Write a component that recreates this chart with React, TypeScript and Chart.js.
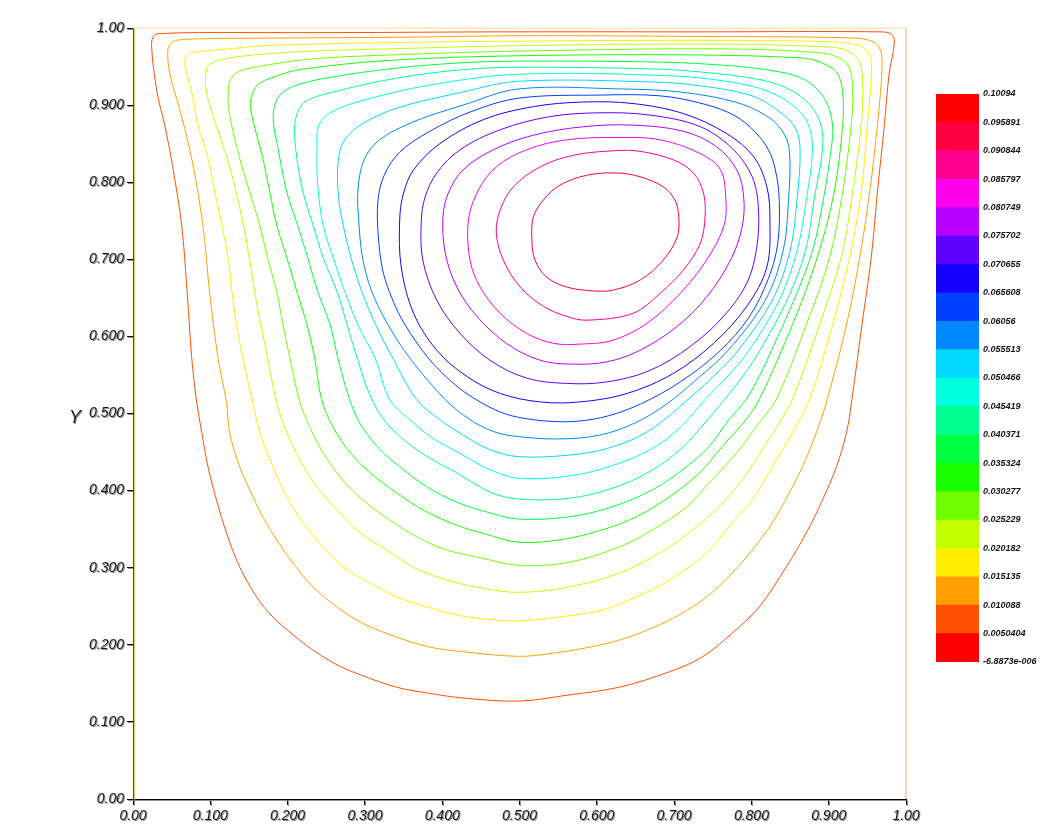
import React, { useEffect, useRef } from 'react';
import { Chart, registerables } from 'chart.js';

Chart.register(...registerables);

// ---- axes ----
const xTickValues = [0, 0.1, 0.2, 0.3, 0.4, 0.5, 0.6, 0.7, 0.8, 0.9, 1.0];
const xTickLabels = ['0.00', '0.100', '0.200', '0.300', '0.400', '0.500', '0.600', '0.700', '0.800', '0.900', '1.00'];
const yTickValues = [0, 0.1, 0.2, 0.3, 0.4, 0.5, 0.6, 0.7, 0.8, 0.9, 1.0];
const yTickLabels = ['0.00', '0.100', '0.200', '0.300', '0.400', '0.500', '0.600', '0.700', '0.800', '0.900', '1.00'];
const yAxisTitle = 'Y';

// ---- contour levels (stream function) ----
const levels = [-6.8873e-6, 0.0050404, 0.010088, 0.015135, 0.020182, 0.025229, 0.030277, 0.035324, 0.040371,
  0.045419, 0.050466, 0.055513, 0.06056, 0.065608, 0.070655, 0.075702, 0.080749, 0.085797, 0.090844, 0.095891, 0.10094];
const levelLabels = ['-6.8873e-006', '0.0050404', '0.010088', '0.015135', '0.020182', '0.025229', '0.030277', '0.035324',
  '0.040371', '0.045419', '0.050466', '0.055513', '0.06056', '0.065608', '0.070655', '0.075702', '0.080749', '0.085797',
  '0.090844', '0.095891', '0.10094'];
const bandColors = ['#ff0000', '#ff5000', '#ffa000', '#ffee00', '#c0ff00', '#70ff00', '#18ff00', '#00ff40', '#00ff90',
  '#00ffdd', '#00d8ff', '#0088ff', '#0040ff', '#1800ff', '#6000ff', '#b800ff', '#ff00ee', '#ff0090', '#ff0040', '#ff0000'];

// ---- contour lines [x, y] (closed loops) ----
const contour01 = [[0.499,0.127],[0.564,0.135],[0.629,0.145],[0.694,0.165],[0.736,0.184],[0.775,0.215],[0.810,0.249],[0.845,0.301],[0.871,0.345],[0.892,0.388],[0.910,0.431],[0.923,0.475],[0.930,0.518],[0.943,0.615],[0.955,0.702],[0.963,0.787],[0.972,0.874],[0.978,0.939],[0.985,0.982],[0.981,0.992],[0.967,0.995],[0.734,0.995],[0.475,0.995],[0.259,0.994],[0.086,0.994],[0.041,0.993],[0.028,0.991],[0.024,0.978],[0.031,0.917],[0.041,0.874],[0.051,0.822],[0.063,0.744],[0.070,0.658],[0.076,0.572],[0.082,0.518],[0.089,0.475],[0.097,0.431],[0.108,0.388],[0.121,0.345],[0.138,0.301],[0.160,0.262],[0.181,0.236],[0.207,0.213],[0.233,0.193],[0.264,0.174],[0.297,0.160],[0.341,0.145],[0.384,0.137],[0.427,0.131],[0.499,0.127]];
const contour02 = [[0.499,0.185],[0.542,0.189],[0.586,0.196],[0.629,0.206],[0.672,0.222],[0.707,0.239],[0.742,0.262],[0.775,0.293],[0.801,0.323],[0.827,0.358],[0.849,0.397],[0.866,0.431],[0.884,0.475],[0.898,0.518],[0.923,0.615],[0.940,0.702],[0.953,0.787],[0.963,0.874],[0.967,0.917],[0.969,0.952],[0.967,0.971],[0.958,0.982],[0.931,0.987],[0.734,0.989],[0.501,0.990],[0.345,0.988],[0.186,0.987],[0.086,0.986],[0.055,0.984],[0.050,0.981],[0.045,0.971],[0.048,0.939],[0.060,0.896],[0.073,0.844],[0.084,0.787],[0.093,0.722],[0.099,0.658],[0.110,0.572],[0.121,0.514],[0.125,0.475],[0.138,0.431],[0.151,0.401],[0.168,0.366],[0.186,0.336],[0.207,0.306],[0.233,0.275],[0.264,0.249],[0.297,0.228],[0.341,0.210],[0.384,0.197],[0.427,0.191],[0.499,0.185]];
const contour03 = [[0.499,0.231],[0.542,0.235],[0.607,0.245],[0.651,0.262],[0.694,0.284],[0.742,0.319],[0.775,0.358],[0.801,0.388],[0.827,0.431],[0.853,0.475],[0.875,0.518],[0.905,0.615],[0.927,0.702],[0.942,0.787],[0.950,0.874],[0.955,0.939],[0.953,0.965],[0.940,0.977],[0.905,0.982],[0.734,0.984],[0.501,0.983],[0.332,0.981],[0.233,0.979],[0.168,0.977],[0.125,0.973],[0.082,0.969],[0.071,0.966],[0.067,0.958],[0.070,0.939],[0.076,0.917],[0.084,0.874],[0.097,0.831],[0.106,0.787],[0.115,0.744],[0.123,0.702],[0.128,0.658],[0.134,0.615],[0.142,0.572],[0.155,0.514],[0.164,0.475],[0.181,0.431],[0.199,0.392],[0.220,0.358],[0.246,0.327],[0.272,0.301],[0.307,0.280],[0.341,0.262],[0.384,0.248],[0.427,0.237],[0.471,0.232],[0.499,0.231]];
const contour04 = [[0.499,0.268],[0.564,0.275],[0.629,0.293],[0.681,0.319],[0.724,0.349],[0.758,0.379],[0.788,0.414],[0.814,0.453],[0.836,0.488],[0.853,0.518],[0.888,0.615],[0.916,0.702],[0.931,0.787],[0.942,0.874],[0.944,0.926],[0.940,0.956],[0.927,0.969],[0.905,0.975],[0.758,0.979],[0.499,0.977],[0.332,0.973],[0.233,0.970],[0.168,0.966],[0.125,0.961],[0.099,0.953],[0.094,0.939],[0.095,0.917],[0.102,0.891],[0.115,0.852],[0.128,0.809],[0.138,0.767],[0.147,0.722],[0.154,0.680],[0.161,0.637],[0.170,0.593],[0.186,0.514],[0.199,0.475],[0.216,0.440],[0.238,0.405],[0.264,0.375],[0.294,0.345],[0.328,0.323],[0.362,0.301],[0.406,0.284],[0.449,0.274],[0.499,0.268]];
const contour05 = [[0.499,0.303],[0.564,0.307],[0.629,0.327],[0.672,0.349],[0.716,0.379],[0.749,0.414],[0.781,0.449],[0.810,0.488],[0.832,0.518],[0.871,0.615],[0.901,0.702],[0.918,0.787],[0.929,0.874],[0.931,0.917],[0.927,0.948],[0.914,0.961],[0.888,0.968],[0.758,0.973],[0.499,0.970],[0.332,0.965],[0.233,0.960],[0.168,0.951],[0.138,0.944],[0.126,0.933],[0.123,0.913],[0.125,0.887],[0.138,0.831],[0.151,0.787],[0.164,0.744],[0.174,0.702],[0.186,0.658],[0.194,0.615],[0.203,0.572],[0.216,0.514],[0.229,0.482],[0.246,0.449],[0.268,0.418],[0.297,0.388],[0.332,0.362],[0.367,0.340],[0.406,0.323],[0.449,0.313],[0.499,0.303]];
const contour06 = [[0.499,0.333],[0.551,0.336],[0.607,0.349],[0.651,0.366],[0.694,0.392],[0.733,0.423],[0.762,0.457],[0.793,0.492],[0.810,0.518],[0.853,0.615],[0.885,0.702],[0.907,0.787],[0.918,0.874],[0.918,0.917],[0.910,0.943],[0.888,0.956],[0.866,0.961],[0.734,0.965],[0.499,0.964],[0.332,0.958],[0.216,0.946],[0.181,0.936],[0.161,0.926],[0.153,0.910],[0.152,0.896],[0.160,0.861],[0.168,0.831],[0.177,0.787],[0.186,0.744],[0.199,0.702],[0.212,0.658],[0.225,0.615],[0.235,0.572],[0.244,0.518],[0.259,0.482],[0.281,0.449],[0.307,0.423],[0.341,0.397],[0.375,0.375],[0.419,0.355],[0.462,0.342],[0.499,0.333]];
const contour07 = [[0.499,0.363],[0.564,0.366],[0.620,0.379],[0.672,0.401],[0.716,0.431],[0.745,0.457],[0.771,0.492],[0.793,0.518],[0.811,0.550],[0.826,0.582],[0.855,0.647],[0.879,0.711],[0.893,0.777],[0.903,0.842],[0.905,0.874],[0.896,0.906],[0.874,0.930],[0.837,0.943],[0.760,0.952],[0.669,0.956],[0.499,0.957],[0.427,0.955],[0.341,0.948],[0.255,0.936],[0.209,0.925],[0.190,0.913],[0.182,0.894],[0.182,0.874],[0.186,0.852],[0.199,0.787],[0.213,0.744],[0.226,0.702],[0.239,0.658],[0.255,0.615],[0.265,0.572],[0.278,0.525],[0.292,0.490],[0.316,0.457],[0.345,0.431],[0.380,0.405],[0.419,0.385],[0.462,0.371],[0.499,0.363]];
const contour08 = [[0.499,0.389],[0.564,0.390],[0.620,0.403],[0.669,0.425],[0.710,0.455],[0.740,0.488],[0.765,0.518],[0.790,0.550],[0.811,0.582],[0.846,0.647],[0.870,0.711],[0.881,0.777],[0.892,0.842],[0.890,0.874],[0.876,0.900],[0.850,0.920],[0.811,0.933],[0.734,0.943],[0.669,0.947],[0.499,0.949],[0.427,0.946],[0.341,0.935],[0.255,0.916],[0.222,0.904],[0.212,0.888],[0.209,0.868],[0.212,0.831],[0.220,0.787],[0.233,0.744],[0.246,0.702],[0.264,0.658],[0.277,0.615],[0.290,0.572],[0.306,0.525],[0.326,0.490],[0.354,0.463],[0.384,0.442],[0.419,0.423],[0.462,0.398],[0.499,0.389]];
const contour09 = [[0.499,0.416],[0.564,0.419],[0.616,0.431],[0.669,0.453],[0.708,0.482],[0.740,0.518],[0.770,0.549],[0.797,0.582],[0.836,0.647],[0.859,0.711],[0.871,0.777],[0.879,0.842],[0.874,0.874],[0.858,0.896],[0.824,0.917],[0.773,0.930],[0.694,0.938],[0.499,0.940],[0.384,0.926],[0.297,0.906],[0.255,0.890],[0.240,0.873],[0.238,0.842],[0.239,0.796],[0.246,0.744],[0.259,0.702],[0.274,0.658],[0.291,0.615],[0.313,0.572],[0.332,0.518],[0.358,0.492],[0.388,0.468],[0.427,0.446],[0.462,0.427],[0.499,0.416]];
const contour10 = [[0.499,0.444],[0.564,0.446],[0.611,0.454],[0.656,0.471],[0.690,0.494],[0.720,0.520],[0.752,0.549],[0.783,0.582],[0.827,0.647],[0.850,0.711],[0.859,0.777],[0.863,0.842],[0.857,0.870],[0.837,0.891],[0.801,0.912],[0.734,0.925],[0.672,0.930],[0.499,0.931],[0.427,0.917],[0.341,0.896],[0.294,0.874],[0.272,0.852],[0.265,0.822],[0.266,0.780],[0.272,0.744],[0.282,0.702],[0.296,0.658],[0.314,0.615],[0.336,0.572],[0.367,0.518],[0.397,0.492],[0.427,0.472],[0.462,0.453],[0.499,0.444]];
const contour11 = [[0.499,0.470],[0.552,0.467],[0.604,0.472],[0.650,0.488],[0.690,0.512],[0.730,0.545],[0.770,0.582],[0.818,0.647],[0.841,0.711],[0.848,0.777],[0.849,0.842],[0.839,0.868],[0.818,0.887],[0.779,0.904],[0.708,0.917],[0.630,0.921],[0.499,0.921],[0.427,0.900],[0.362,0.878],[0.319,0.855],[0.299,0.829],[0.291,0.790],[0.292,0.751],[0.297,0.702],[0.309,0.658],[0.330,0.615],[0.358,0.572],[0.404,0.518],[0.436,0.492],[0.468,0.476],[0.499,0.470]];
const contour12 = [[0.499,0.495],[0.538,0.490],[0.575,0.490],[0.615,0.497],[0.658,0.513],[0.708,0.541],[0.758,0.580],[0.797,0.625],[0.822,0.675],[0.834,0.720],[0.836,0.777],[0.831,0.816],[0.822,0.842],[0.805,0.865],[0.779,0.886],[0.740,0.901],[0.682,0.912],[0.604,0.913],[0.499,0.909],[0.436,0.891],[0.384,0.866],[0.345,0.839],[0.325,0.809],[0.317,0.777],[0.317,0.735],[0.323,0.686],[0.336,0.647],[0.352,0.615],[0.382,0.572],[0.417,0.537],[0.449,0.515],[0.475,0.502],[0.499,0.495]];
const contour13 = [[0.527,0.515],[0.578,0.515],[0.639,0.526],[0.699,0.552],[0.751,0.591],[0.794,0.639],[0.820,0.690],[0.824,0.751],[0.820,0.794],[0.803,0.833],[0.768,0.863],[0.712,0.889],[0.647,0.902],[0.583,0.904],[0.518,0.898],[0.453,0.881],[0.397,0.850],[0.363,0.816],[0.350,0.786],[0.345,0.751],[0.347,0.690],[0.363,0.630],[0.393,0.582],[0.432,0.548],[0.475,0.526],[0.527,0.515]];
const contour14 = [[0.561,0.539],[0.613,0.541],[0.669,0.556],[0.721,0.587],[0.764,0.626],[0.794,0.669],[0.807,0.716],[0.809,0.768],[0.801,0.807],[0.777,0.842],[0.734,0.872],[0.669,0.887],[0.604,0.890],[0.539,0.885],[0.475,0.868],[0.423,0.842],[0.393,0.812],[0.378,0.781],[0.373,0.751],[0.375,0.699],[0.393,0.647],[0.423,0.604],[0.462,0.569],[0.509,0.546],[0.561,0.539]];
const contour15 = [[0.570,0.564],[0.613,0.567],[0.656,0.582],[0.704,0.613],[0.742,0.651],[0.773,0.699],[0.788,0.742],[0.790,0.781],[0.781,0.816],[0.755,0.846],[0.712,0.866],[0.647,0.874],[0.583,0.872],[0.518,0.861],[0.466,0.842],[0.427,0.816],[0.408,0.786],[0.401,0.755],[0.404,0.708],[0.419,0.664],[0.445,0.626],[0.483,0.591],[0.527,0.569],[0.570,0.564]];
const contour16 = [[0.578,0.590],[0.621,0.595],[0.665,0.617],[0.708,0.656],[0.742,0.699],[0.764,0.742],[0.767,0.777],[0.760,0.816],[0.734,0.837],[0.682,0.855],[0.626,0.858],[0.561,0.855],[0.509,0.842],[0.470,0.820],[0.447,0.790],[0.434,0.751],[0.436,0.699],[0.449,0.664],[0.475,0.630],[0.509,0.604],[0.544,0.591],[0.578,0.590]];
const contour17 = [[0.587,0.621],[0.647,0.630],[0.682,0.656],[0.712,0.686],[0.734,0.721],[0.740,0.755],[0.738,0.786],[0.725,0.812],[0.699,0.829],[0.656,0.840],[0.626,0.841],[0.570,0.835],[0.527,0.820],[0.492,0.794],[0.475,0.764],[0.470,0.734],[0.479,0.699],[0.501,0.664],[0.531,0.639],[0.561,0.626],[0.587,0.621]];
const contour18 = [[0.626,0.812],[0.656,0.807],[0.686,0.794],[0.701,0.777],[0.706,0.755],[0.704,0.729],[0.686,0.699],[0.656,0.673],[0.621,0.660],[0.596,0.659],[0.561,0.664],[0.535,0.677],[0.520,0.699],[0.516,0.725],[0.518,0.755],[0.531,0.777],[0.552,0.796],[0.587,0.809],[0.626,0.812]];

// zero stream-function lines along the walls
const wallLeft = [[0.0015, 0], [0.0015, 1]];
const wallTop = [[0, 1], [1, 1]];
const wallRight = [[1, 0], [1, 1]];
const wallColors = ['#f6ee58', '#ffd890', '#ffa878'];

const contours = [contour01, contour02, contour03, contour04, contour05, contour06, contour07, contour08, contour09,
  contour10, contour11, contour12, contour13, contour14, contour15, contour16, contour17, contour18];

const tickFont = { family: '"Liberation Sans", Arial, sans-serif', style: 'italic' as const, size: 14 };

// soft offset shadow on axis texts, like the reference
const shadowPlugin = {
  id: 'axisShadow',
  beforeDraw(chart: any) {
    const ctx = chart.ctx;
    ctx.shadowColor = 'rgba(120,120,120,0.8)';
    ctx.shadowOffsetX = 1;
    ctx.shadowOffsetY = 1;
    ctx.shadowBlur = 0;
  },
  beforeDatasetsDraw(chart: any) {
    const ctx = chart.ctx;
    ctx.shadowColor = 'rgba(0,0,0,0)';
    ctx.shadowOffsetX = 0;
    ctx.shadowOffsetY = 0;
  },
};

const yTitlePlugin = {
  id: 'yTitle',
  afterDraw(chart: any) {
    const { ctx, chartArea } = chart;
    ctx.save();
    ctx.font = 'italic 18px "Liberation Sans", Arial, sans-serif';
    ctx.fillStyle = '#222';
    ctx.shadowColor = 'rgba(120,120,120,0.8)';
    ctx.shadowOffsetX = 1;
    ctx.shadowOffsetY = 1;
    ctx.textAlign = 'center';
    ctx.textBaseline = 'middle';
    ctx.fillText(yAxisTitle, chartArea.left - 58, (chartArea.top + chartArea.bottom) / 2 + 4);
    ctx.restore();
  },
};

export default function App() {
  const mainRef = useRef<HTMLCanvasElement>(null);
  const barRef = useRef<HTMLCanvasElement>(null);

  useEffect(() => {
    const toPts = (arr: number[][]) => arr.map(([x, y]) => ({ x, y }));
    // wrap one point on each side so the smoothed loop closes without a cusp;
    // the two wrapped helper segments are left invisible
    const closeLoop = (arr: number[][]) => [arr[arr.length - 2], ...arr, arr[1]];
    const datasets: any[] = contours.map((pts, i) => {
      const data = toPts(closeLoop(pts));
      const last = data.length - 1;
      const color = bandColors[i + 1];
      return {
        label: levelLabels[i + 1],
        data,
        showLine: true,
        borderColor: color,
        borderWidth: 1,
        pointRadius: 0,
        tension: 0.35,
        fill: false,
        clip: false,
        segment: {
          borderColor: (c: any) => (c.p0DataIndex === 0 || c.p1DataIndex === last ? 'rgba(0,0,0,0)' : color),
        },
      };
    });
    [wallLeft, wallTop, wallRight].forEach((w, i) => {
      datasets.push({
        label: 'wall' + i,
        data: toPts(w),
        showLine: true,
        borderColor: wallColors[i],
        borderWidth: 1,
        pointRadius: 0,
        tension: 0,
        fill: false,
        clip: false,
      });
    });

    const main = new Chart(mainRef.current!, {
      type: 'scatter',
      data: { datasets },
      options: {
        animation: false,
        responsive: false,
        maintainAspectRatio: false,
        layout: { padding: { left: 0, right: 135, top: 28, bottom: 0 } },
        plugins: { legend: { display: false }, tooltip: { enabled: false } },
        scales: {
          x: {
            type: 'linear',
            min: 0,
            max: 1,
            afterBuildTicks: (s: any) => { s.ticks = xTickValues.map((v) => ({ value: v })); },
            afterFit: (s: any) => { s.height = 28; },
            ticks: {
              callback: (_v: any, i: number) => xTickLabels[i],
              font: tickFont,
              color: '#1a1a1a',
              padding: 3,
              maxRotation: 0,
              autoSkip: false,
            },
            grid: { display: true, drawOnChartArea: false, drawTicks: true, tickLength: 6, color: '#000' },
            border: { display: true, color: '#000', width: 1 },
          },
          y: {
            type: 'linear',
            min: 0,
            max: 1,
            afterBuildTicks: (s: any) => { s.ticks = yTickValues.map((v) => ({ value: v })); },
            afterFit: (s: any) => { s.width = 133; },
            ticks: {
              callback: (_v: any, i: number) => yTickLabels[i],
              font: tickFont,
              color: '#1a1a1a',
              padding: 3,
              autoSkip: false,
            },
            grid: { display: true, drawOnChartArea: false, drawTicks: true, tickLength: 6, color: '#000' },
            border: { display: true, color: '#000', width: 1 },
          },
        },
      } as any,
      plugins: [shadowPlugin, yTitlePlugin],
    });

    const bar = new Chart(barRef.current!, {
      type: 'bar',
      data: {
        labels: [''],
        datasets: levels.slice(0, -1).map((lo, i) => ({
          label: levelLabels[i],
          data: [[lo, levels[i + 1]]] as any,
          backgroundColor: bandColors[i],
          borderWidth: 0,
          grouped: false,
          barPercentage: 1,
          categoryPercentage: 1,
        })),
      },
      options: {
        animation: false,
        responsive: false,
        maintainAspectRatio: false,
        layout: { padding: { left: 6, top: 14, bottom: 18, right: 0 } },
        plugins: { legend: { display: false }, tooltip: { enabled: false } },
        scales: {
          x: { display: false },
          y: {
            position: 'right',
            min: levels[0],
            max: levels[levels.length - 1],
            afterBuildTicks: (s: any) => { s.ticks = levels.map((v) => ({ value: v })); },
            afterFit: (s: any) => { s.width = 62; },
            ticks: {
              callback: (_v: any, i: number) => levelLabels[i],
              autoSkip: false,
              font: { family: '"Liberation Sans", Arial, sans-serif', style: 'italic', weight: 'bold', size: 9 },
              color: '#111',
              padding: 4,
            },
            grid: { display: false, drawTicks: false },
            border: { display: false },
          },
        },
      } as any,
    });

    return () => {
      main.destroy();
      bar.destroy();
    };
  }, []);

  return (
    <div style={{ position: 'absolute', left: 0, top: 0, width: 1041, height: 827, background: '#fff', overflow: 'hidden' }}>
      <canvas ref={mainRef} width={1041} height={827} style={{ position: 'absolute', left: 0, top: 0 }} />
      <canvas ref={barRef} width={111} height={600} style={{ position: 'absolute', left: 930, top: 80 }} />
    </div>
  );
}
